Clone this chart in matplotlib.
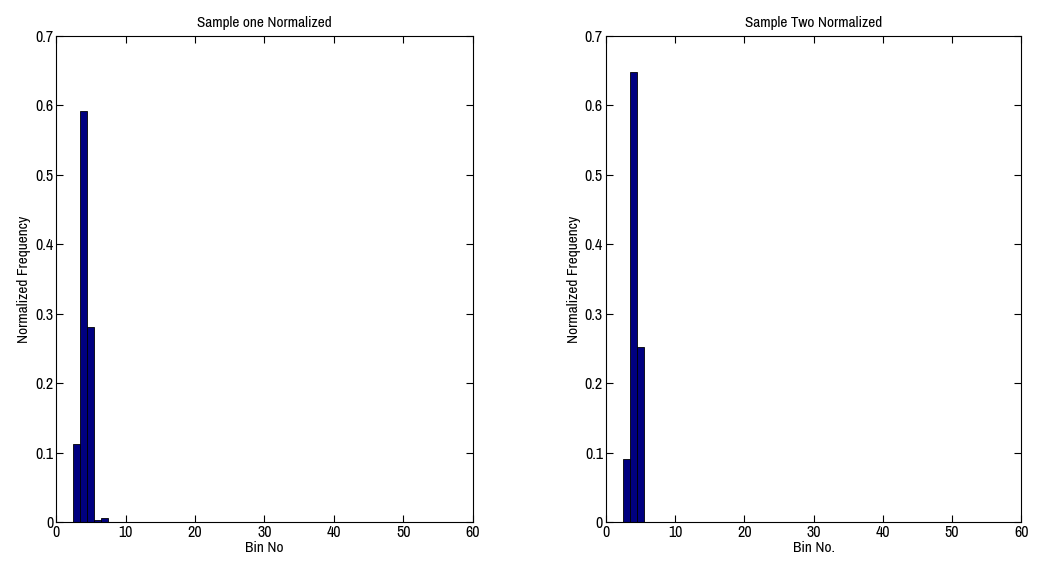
import matplotlib
matplotlib.use("Agg")
import matplotlib.pyplot as plt

plt.rcParams['font.family'] = ['Archivo Narrow', 'Roboto Condensed', 'Liberation Sans', 'DejaVu Sans']
plt.rcParams['font.size'] = 11

# bin numbers and normalized frequencies for each sample
bins_one = [3, 4, 5, 6, 7]
freq_one = [0.112, 0.592, 0.281, 0.003, 0.006]

bins_two = [3, 4, 5]
freq_two = [0.090, 0.648, 0.252]

titles = ["Sample one Normalized", "Sample Two Normalized"]
xlabels = ["Bin No", "Bin No."]
xticks = [0, 10, 20, 30, 40, 50, 60]
yticks = [0, 0.1, 0.2, 0.3, 0.4, 0.5, 0.6, 0.7]
ytick_labels = ['0', '0.1', '0.2', '0.3', '0.4', '0.5', '0.6', '0.7']

fig = plt.figure(figsize=(10.39, 5.68), dpi=100)
ax1 = fig.add_axes([0.054, 0.081, 0.401, 0.856])
ax2 = fig.add_axes([0.583, 0.081, 0.400, 0.856])

for ax, bins, freq, title, xl in zip([ax1, ax2], [bins_one, bins_two],
                                     [freq_one, freq_two], titles, xlabels):
    ax.bar(bins, freq, width=1.0, color='#000080', edgecolor='black', linewidth=0.6)
    ax.set_xlim(0, 60)
    ax.set_ylim(0, 0.7)
    ax.set_xticks(xticks)
    ax.set_yticks(yticks)
    ax.set_yticklabels(ytick_labels)
    ax.tick_params(direction='in', top=True, right=True, length=5, width=0.8,
                   pad=2, labelsize=11.5)
    ax.set_title(title, fontsize=11, pad=6)
    ax.set_xlabel(xl, labelpad=1)
    ax.set_ylabel("Normalized Frequency", labelpad=3)
    for s in ax.spines.values():
        s.set_linewidth(0.8)

fig.savefig("out.png", dpi=100)
